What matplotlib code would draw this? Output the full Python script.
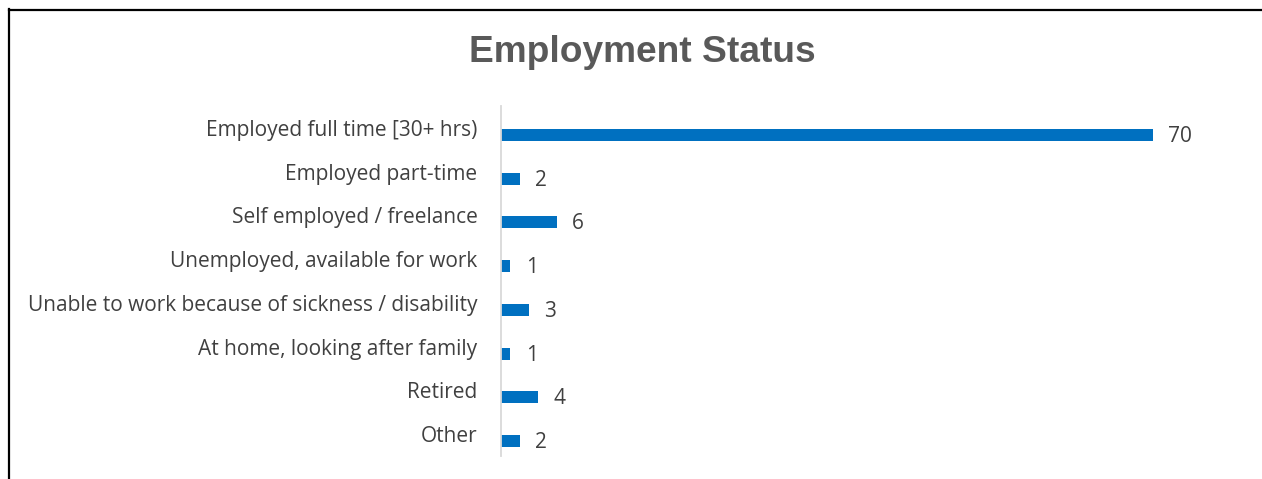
import matplotlib
matplotlib.use("Agg")
import matplotlib.pyplot as plt
from matplotlib.lines import Line2D

categories = [
    "Employed full time [30+ hrs)",
    "Employed part-time",
    "Self employed / freelance",
    "Unemployed, available for work",
    "Unable to work because of sickness / disability",
    "At home, looking after family",
    "Retired",
    "Other",
]
values = [70, 2, 6, 1, 3, 1, 4, 2]

W, H = 1262, 479
fig = plt.figure(figsize=(W / 100, H / 100), dpi=100)
fig.patch.set_facecolor("white")

# axes placement in pixels
x0, x1 = 501, 1200
y_top, y_bot = 106, 456
ax = fig.add_axes([x0 / W, 1 - y_bot / H, (x1 - x0) / W, (y_bot - y_top) / H])

xmax = 70 * (x1 - x0) / (1153 - x0)
ypos = list(range(len(categories)))
bar_off = 0.16  # bars sit slightly below slot centre (Excel clustered layout)
ax.barh([p + bar_off for p in ypos], values, height=0.27, color="#0070C0", zorder=2)
ax.set_xlim(0, xmax)
ax.set_ylim(len(categories) - 0.5, -0.5)

for s in ["top", "right", "bottom"]:
    ax.spines[s].set_visible(False)
ax.spines["left"].set_color("#d9d9d9")
ax.spines["left"].set_linewidth(1.3)
ax.set_xticks([])
ax.set_yticks(ypos)
ax.set_yticklabels(categories, fontsize=15.0, color="#404040", family="Open Sans")
ax.tick_params(axis="y", length=0, pad=17)

for y, v in zip(ypos, values):
    ax.annotate(str(v), (v, y + bar_off), xytext=(11, -1), textcoords="offset points",
                ha="left", va="center", fontsize=15.0, color="#404040",
                family="Open Sans")

fig.text(642 / W, 1 - 52 / H, "Employment Status", ha="center", va="center",
         fontsize=26.7, fontweight="bold", color="#595959", family="Liberation Sans")

# outer frame lines (left and top)
fig.add_artist(Line2D([8.5 / W, 8.5 / W], [0, 1 - 9 / H], transform=fig.transFigure,
                      color="black", linewidth=1.6))
fig.add_artist(Line2D([8.5 / W, 1], [1 - 9.5 / H, 1 - 9.5 / H], transform=fig.transFigure,
                      color="black", linewidth=1.6))

fig.savefig("out.png", dpi=100, facecolor="white")
